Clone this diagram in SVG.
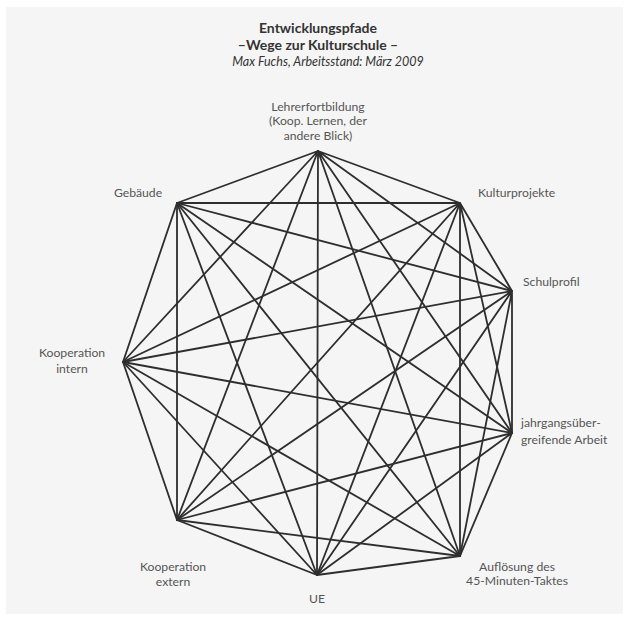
<svg xmlns="http://www.w3.org/2000/svg" width="629" height="621" viewBox="0 0 629 621">
<style>
.e{stroke:#2e2e2e;stroke-width:1.8;fill:none;stroke-linecap:round}
.t{font-family:Lato,"Open Sans","Liberation Sans",sans-serif;fill:#333}
.l{font-family:Lato,"Open Sans","Liberation Sans",sans-serif;fill:#555;font-size:12.2px}
</style>
<rect width="629" height="621" fill="#ffffff"/>
<rect x="6" y="7" width="617" height="607" fill="#f5f5f5"/>
<g id="title">
<text class="t" x="318" y="33" font-size="14" font-weight="bold" text-anchor="middle">Entwicklungspfade</text>
<text class="t" x="318" y="50" font-size="14" font-weight="bold" text-anchor="middle">–Wege zur Kulturschule –</text>
<text class="t" x="328" y="66" font-size="12.5" font-style="italic" text-anchor="middle">Max Fuchs, Arbeitsstand: März 2009</text>
</g>
<g id="connectors">
<path class="e" d="M318,151L460,203M318,151L512,291M318,151L512,433M318,151L460,556M318,151L317,575M318,151L177,520M318,151L123,362M318,151L177,203"/>
<path class="e" d="M460,203L512,291M460,203L512,433M460,203L460,556M460,203L317,575M460,203L177,520M460,203L123,362M460,203L177,203"/>
<path class="e" d="M512,291L512,433M512,291L460,556M512,291L317,575M512,291L177,520M512,291L123,362M512,291L177,203"/>
<path class="e" d="M512,433L460,556M512,433L317,575M512,433L177,520M512,433L123,362M512,433L177,203"/>
<path class="e" d="M460,556L317,575M460,556L177,520M460,556L123,362M460,556L177,203"/>
<path class="e" d="M317,575L177,520M317,575L123,362M317,575L177,203"/>
<path class="e" d="M177,520L123,362M177,520L177,203"/>
<path class="e" d="M123,362L177,203"/>
</g>
<g id="n-lehrer"><text class="l" text-anchor="middle" x="318" y="110.5">Lehrerfortbildung</text><text class="l" text-anchor="middle" x="318" y="125.3">(Koop. Lernen, der</text><text class="l" text-anchor="middle" x="318" y="140">andere Blick)</text></g>
<g id="n-kultur"><text class="l" x="478" y="197">Kulturprojekte</text></g>
<g id="n-schul"><text class="l" x="523" y="286">Schulprofil</text></g>
<g id="n-jahrgang"><text class="l" x="521" y="427">jahrgangsüber-</text><text class="l" x="521" y="444">greifende Arbeit</text></g>
<g id="n-aufl"><text class="l" text-anchor="middle" x="517" y="570.5">Auflösung des</text><text class="l" text-anchor="middle" x="517" y="585.3">45-Minuten-Taktes</text></g>
<g id="n-ue"><text class="l" text-anchor="middle" x="317" y="603">UE</text></g>
<g id="n-extern"><text class="l" text-anchor="middle" x="173" y="571.3">Kooperation</text><text class="l" text-anchor="middle" x="173" y="586.1">extern</text></g>
<g id="n-intern"><text class="l" text-anchor="middle" x="72" y="357">Kooperation</text><text class="l" text-anchor="middle" x="72" y="373">intern</text></g>
<g id="n-gebaeude"><text class="l" text-anchor="middle" x="138" y="197">Gebäude</text></g>
</svg>
